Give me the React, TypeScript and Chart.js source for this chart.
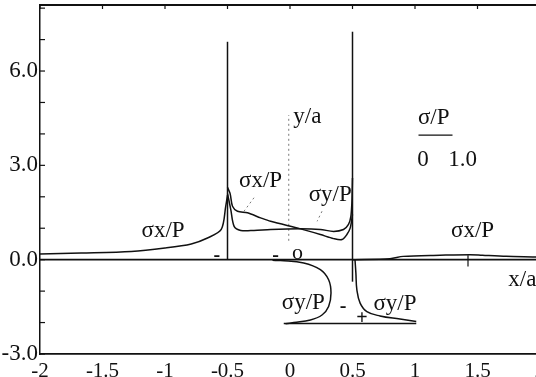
import React, { useEffect, useRef } from "react";
import { Chart, registerables } from "chart.js";

Chart.register(...registerables);

// ---- axis ticks ----
const X_TICKS = [-2, -1.5, -1, -0.5, 0, 0.5, 1, 1.5, 2];
const X_TICK_LABELS = ["-2", "-1.5", "-1", "-0.5", "0", "0.5", "1", "1.5", "2"];
const Y_LABEL_TICKS = [-3, 0, 3, 6];
const Y_MINOR_TICKS = [-3, -2, -1, 0, 1, 2, 3, 4, 5, 6, 7, 8];

// ---- series (x/a, sigma/P) ----
const baseX = [-2, 2];
const baseY = [0, 0];

const sxOuterLeftX = [-2.0, -1.67, -1.27, -1.0, -0.79, -0.66, -0.55, -0.514, -0.5];
const sxOuterLeftY = [0.18, 0.21, 0.26, 0.37, 0.5, 0.69, 0.96, 1.7, 2.05];

const leftWallX = [-0.5, -0.5];
const leftWallY = [0, 6.93];

const rightWallX = [0.5, 0.5];
const rightWallY = [-0.7, 7.25];

const sxInnerX = [-0.5, -0.479, -0.46, -0.42, -0.34, -0.235, -0.155, 0.084, 0.243, 0.349, 0.416, 0.455, 0.482, 0.5];
const sxInnerY = [2.3, 2.1, 1.7, 1.54, 1.49, 1.33, 1.22, 0.98, 0.8, 0.67, 0.64, 0.8, 1.01, 1.44];

const syInnerX = [-0.5, -0.474, -0.447, -0.394, -0.288, -0.155, 0.084, 0.243, 0.349, 0.428, 0.468, 0.487, 0.495, 0.5];
const syInnerY = [2.1, 1.6, 1.06, 0.93, 0.93, 0.96, 0.98, 0.96, 0.9, 0.96, 1.12, 1.38, 1.81, 2.6];

const sxRightX = [0.5, 0.8, 0.906, 1.2, 1.44, 1.54, 1.73, 1.94, 2.0];
const sxRightY = [0, 0.03, 0.105, 0.14, 0.16, 0.14, 0.105, 0.086, 0.08];

const syLowLeftX = [-0.14, -0.076, 0.11, 0.243, 0.309, 0.328, 0.309, 0.256, 0.163, 0.03, -0.036];
const syLowLeftY = [-0.02, -0.03, -0.105, -0.32, -0.64, -1.06, -1.49, -1.76, -1.92, -2.0, -2.04];

const syLowRightX = [0.52, 0.527, 0.535, 0.561, 0.615, 0.72, 0.88, 1.01];
const syLowRightY = [0, -0.42, -0.96, -1.38, -1.65, -1.79, -1.89, -1.97];

const syBaseX = [-0.05, 1.01];
const syBaseY = [-2.03, -2.03];

const scaleBarX = [1.028, 1.3];
const scaleBarY = [3.96, 3.96];

const yAxisDotX = [-0.01, -0.01];
const yAxisDotY = [0.6, 4.6];

const sxLeaderX = [-0.288, -0.368];
const sxLeaderY = [1.97, 1.54];

const syLeaderX = [0.256, 0.217];
const syLeaderY = [1.54, 1.22];

const plusTickX = [1.424, 1.424];
const plusTickY = [0.14, -0.22];

// ---- annotations ----
const noteTexts = ["σx/P", "σx/P", "σy/P", "y/a", "σx/P", "x/a", "σy/P", "σy/P", "σ/P", "0", "1.0"];
const noteX = [-1.015, -0.235, 0.322, 0.139, 1.461, 1.859, 0.107, 0.84, 1.15, 1.063, 1.381];
const noteY = [0.91, 2.5, 2.06, 4.54, 0.91, -0.65, -1.38, -1.41, 4.51, 3.17, 3.17];

const signTexts = ["-", "-", "o", "-", "+"];
const signX = [-0.585, -0.115, 0.06, 0.424, 0.575];
const signY = [0.12, 0.12, 0.2, -1.49, -1.89];

const FONT = "'Liberation Serif', 'Times New Roman', serif";

function pts(xs: number[], ys: number[]) {
  return xs.map((x, i) => ({ x, y: ys[i] }));
}

function series(xs: number[], ys: number[], opts: any = {}) {
  return {
    data: pts(xs, ys),
    borderColor: "#111",
    borderWidth: 1.5,
    pointRadius: 0,
    showLine: true,
    fill: false,
    tension: 0,
    ...opts,
  };
}

const decorPlugin = {
  id: "decor",
  afterDraw(chart: any) {
    const { ctx, chartArea } = chart;
    const { left, top, right } = chartArea;
    const xs = chart.scales.x;
    const ys = chart.scales.y;
    ctx.save();
    ctx.strokeStyle = "#111";
    ctx.lineWidth = 2;
    ctx.beginPath();
    ctx.moveTo(left, top);
    ctx.lineTo(right, top);
    ctx.stroke();
    ctx.lineWidth = 1.2;
    X_TICKS.forEach((v) => {
      const px = xs.getPixelForValue(v);
      ctx.beginPath();
      ctx.moveTo(px, top);
      ctx.lineTo(px, top + 4);
      ctx.stroke();
    });
    Y_MINOR_TICKS.forEach((v) => {
      const py = ys.getPixelForValue(v);
      ctx.beginPath();
      ctx.moveTo(left, py);
      ctx.lineTo(left + 5, py);
      ctx.stroke();
    });
    ctx.fillStyle = "#111";
    ctx.textAlign = "center";
    ctx.textBaseline = "middle";
    ctx.font = `23px ${FONT}`;
    noteTexts.forEach((t, i) => {
      ctx.fillText(t, xs.getPixelForValue(noteX[i]), ys.getPixelForValue(noteY[i]));
    });
    signTexts.forEach((t, i) => {
      ctx.font = t === "o" ? `22px ${FONT}` : `bold 20px ${FONT}`;
      ctx.fillText(t, xs.getPixelForValue(signX[i]), ys.getPixelForValue(signY[i]));
    });
    ctx.restore();
  },
};

export default function App() {
  const ref = useRef<HTMLCanvasElement>(null);
  useEffect(() => {
    document.body.style.margin = "0";
    document.body.style.overflow = "hidden";
    const canvas = ref.current!;
    const chart = new Chart(canvas, {
      type: "scatter",
      data: {
        datasets: [
          series(baseX, baseY, { borderWidth: 1.8 }),
          series(sxOuterLeftX, sxOuterLeftY, { tension: 0.3 }),
          series(leftWallX, leftWallY),
          series(rightWallX, rightWallY),
          series(sxInnerX, sxInnerY, { tension: 0.3 }),
          series(syInnerX, syInnerY, { tension: 0.3 }),
          series(sxRightX, sxRightY, { tension: 0.3 }),
          series(syLowLeftX, syLowLeftY, { tension: 0.4 }),
          series(syLowRightX, syLowRightY, { tension: 0.4 }),
          series(syBaseX, syBaseY),
          series(scaleBarX, scaleBarY, { borderWidth: 1.2 }),
          series(yAxisDotX, yAxisDotY, { borderWidth: 1, borderDash: [2, 3], borderColor: "#777" }),
          series(sxLeaderX, sxLeaderY, { borderWidth: 1, borderDash: [2, 3], borderColor: "#777" }),
          series(syLeaderX, syLeaderY, { borderWidth: 1, borderDash: [2, 3], borderColor: "#777" }),
          series(plusTickX, plusTickY, { borderWidth: 1.2 }),
        ],
      },
      options: {
        animation: false,
        responsive: false,
        layout: { padding: { top: 5, left: 0, right: 0, bottom: 0 }, autoPadding: false },
        plugins: { legend: { display: false }, tooltip: { enabled: false } },
        scales: {
          x: {
            type: "linear",
            min: -2,
            max: 2,
            afterFit: (s: any) => {
              s.height = 23;
              s.paddingLeft = 0;
              s.paddingRight = 0;
              s.paddingTop = 0;
              s.paddingBottom = 0;
            },
            afterBuildTicks: (s: any) => {
              s.ticks = X_TICKS.map((v) => ({ value: v }));
            },
            grid: { display: false, drawTicks: false },
            border: { display: true, color: "#111", width: 1.8 },
            ticks: {
              color: "#111",
              padding: 5,
              maxRotation: 0,
              autoSkip: false,
              font: { family: FONT, size: 21 },
              callback: (v: any, i: number) => X_TICK_LABELS[i],
            },
          },
          y: {
            type: "linear",
            min: -3,
            max: 8.1,
            afterFit: (s: any) => {
              s.width = 40;
              s.paddingLeft = 0;
              s.paddingRight = 0;
              s.paddingTop = 0;
              s.paddingBottom = 0;
            },
            afterBuildTicks: (s: any) => {
              s.ticks = Y_LABEL_TICKS.map((v) => ({ value: v }));
            },
            grid: { display: false, drawTicks: false },
            border: { display: true, color: "#111", width: 1.5 },
            ticks: {
              color: "#111",
              padding: 2,
              autoSkip: false,
              font: { family: FONT, size: 23 },
              callback: (v: any) => Number(v).toFixed(1),
            },
          },
        },
      },
      plugins: [decorPlugin],
    });
    return () => chart.destroy();
  }, []);
  return (
    <div style={{ position: "relative", width: 540, height: 377 }}>
      <canvas ref={ref} width={540} height={377} style={{ width: 540, height: 377, display: "block" }} />
    </div>
  );
}
